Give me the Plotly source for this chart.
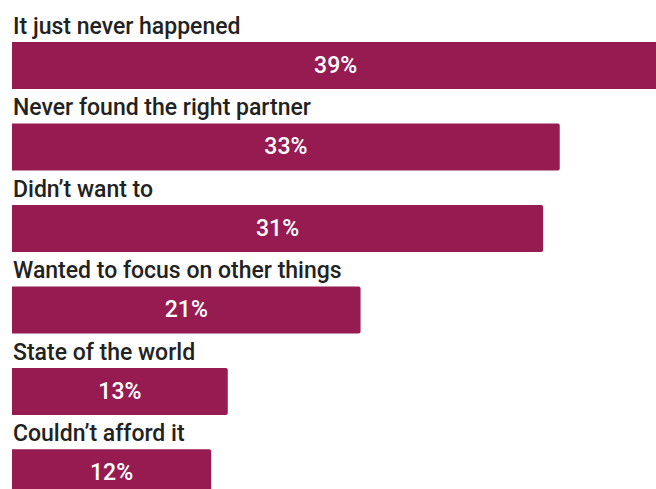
import plotly.graph_objects as go

# Data
categories = [
    "It just never happened",
    "Never found the right partner",
    "Didn\u2019t want to",
    "Wanted to focus on other things",
    "State of the world",
    "Couldn\u2019t afford it",
]
bar_lengths = [39, 33, 32, 21, 13, 12]
value_labels = ["39%", "33%", "31%", "21%", "13%", "12%"]

positions = list(range(len(categories)))
BAR_COLOR = "#951B51"
FONT = "Roboto, 'Open Sans', sans-serif"
BAR_W = 0.577

fig = go.Figure()
fig.add_trace(go.Bar(
    x=bar_lengths,
    y=positions,
    orientation="h",
    width=BAR_W,
    marker=dict(color=BAR_COLOR, line=dict(width=0), cornerradius=2),
    text=value_labels,
    textposition="inside",
    insidetextanchor="middle",
    textfont=dict(family=FONT, size=23, color="white", weight=500),
    hoverinfo="skip",
))

for p, cat in zip(positions, categories):
    fig.add_annotation(
        x=0, y=p - BAR_W / 2,
        xref="x", yref="y",
        text=cat,
        showarrow=False,
        xanchor="left", yanchor="bottom",
        xshift=-1, yshift=0,
        font=dict(family=FONT, size=23, color="#222222", weight=500),
    )

fig.update_layout(
    width=656, height=489,
    margin=dict(l=12, r=0, t=0, b=0),
    paper_bgcolor="white",
    plot_bgcolor="white",
    showlegend=False,
    xaxis=dict(range=[0, 38.8], visible=False, fixedrange=True),
    yaxis=dict(range=[5.198, -0.804], visible=False, fixedrange=True),
)

fig.write_html(
    "out.html",
    config={"displayModeBar": False},
    post_script="document.body.style.margin='0';document.body.style.overflow='hidden';",
)
